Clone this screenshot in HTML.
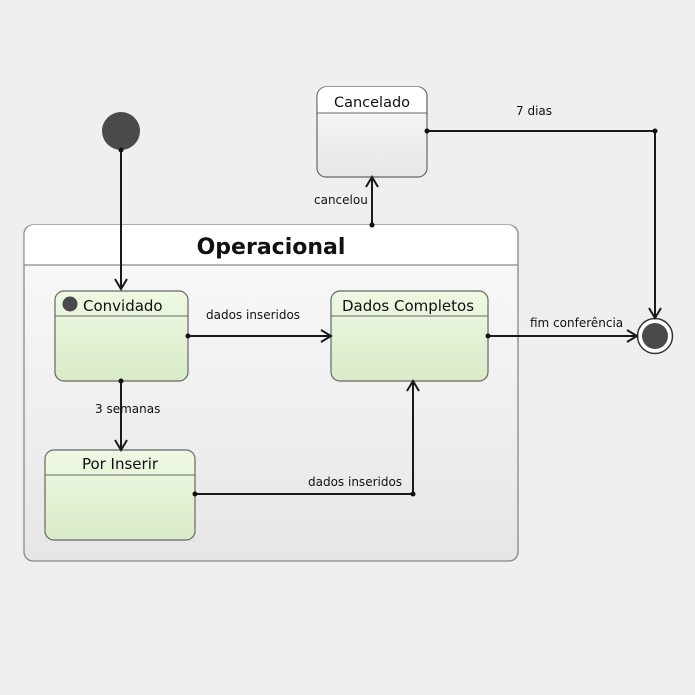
<!DOCTYPE html>
<html><head><meta charset="utf-8"><style>
html,body{margin:0;padding:0;background:#efefef;}
svg{display:block;font-family:"DejaVu Sans","Liberation Sans",sans-serif;}
</style></head><body>
<svg width="695" height="695" viewBox="0 0 695 695" xmlns="http://www.w3.org/2000/svg">
<defs>
<linearGradient id="g" x1="0" y1="0" x2="0" y2="1"><stop offset="0" stop-color="#fafafa"/><stop offset="1" stop-color="#e6e6e6"/></linearGradient>
<linearGradient id="gg" x1="0" y1="0" x2="0" y2="1"><stop offset="0" stop-color="#eef8e4"/><stop offset="1" stop-color="#d9ebc6"/></linearGradient>
</defs>
<rect width="695" height="695" fill="#efefef"/>
<rect x="24" y="225" width="494" height="336" rx="9" fill="url(#g)" stroke="#888" stroke-width="1.3"/>
<path d="M24.7 265 V234 a9 9 0 0 1 9 -9 H508 a9 9 0 0 1 9 9 V265 Z" fill="#fff"/>
<line x1="24" y1="265" x2="518" y2="265" stroke="#888" stroke-width="1.3"/>
<text x="271" y="254" font-size="22" font-weight="bold" text-anchor="middle" fill="#111">Operacional</text>
<rect x="317" y="87" width="110" height="90" rx="9" fill="url(#g)" stroke="#666" stroke-width="1.2"/>
<path d="M317.6 113 V96 a9 9 0 0 1 9 -9 H417 a9 9 0 0 1 9 9 V113 Z" fill="#fff"/>
<line x1="317" y1="113" x2="427" y2="113" stroke="#666"/>
<text x="372" y="107" font-size="14.5" text-anchor="middle" fill="#111">Cancelado</text>
<rect x="55" y="291" width="133" height="90" rx="9" fill="url(#gg)" stroke="#666" stroke-width="1.2"/>
<line x1="55" y1="316" x2="188" y2="316" stroke="#666"/>
<circle cx="70" cy="304" r="7.5" fill="#4a4a4a"/>
<text x="83" y="311" font-size="15" fill="#111">Convidado</text>
<rect x="331" y="291" width="157" height="90" rx="9" fill="url(#gg)" stroke="#666" stroke-width="1.2"/>
<line x1="331" y1="316" x2="488" y2="316" stroke="#666"/>
<text x="408" y="311" font-size="15" text-anchor="middle" fill="#111">Dados Completos</text>
<rect x="45" y="450" width="150" height="90" rx="9" fill="url(#gg)" stroke="#666" stroke-width="1.2"/>
<line x1="45" y1="475" x2="195" y2="475" stroke="#666"/>
<text x="120" y="469" font-size="15" text-anchor="middle" fill="#111">Por Inserir</text>
<circle cx="121" cy="131" r="19" fill="#4a4a4a"/>
<circle cx="655" cy="336" r="17.5" fill="#fff" stroke="#333" stroke-width="1.5"/>
<circle cx="655" cy="336" r="13" fill="#4a4a4a"/>
<g stroke="#1a1a1a" stroke-width="2" fill="none">
<path d="M121 150 V289"/><path d="M115 279 L121 289 L127 279"/>
<path d="M372 225 V177"/><path d="M366 187 L372 177 L378 187"/>
<path d="M427 131 H655 V318"/><path d="M649 308 L655 318 L661 308"/>
<path d="M188 336 H331"/><path d="M321 330 L331 336 L321 342"/>
<path d="M488 336 H637"/><path d="M627 330 L637 336 L627 342"/>
<path d="M121 381 V450"/><path d="M115 440 L121 450 L127 440"/>
<path d="M195 494 H413 V381"/><path d="M407 391 L413 381 L419 391"/>
</g>
<g fill="#111">
<circle cx="121" cy="150" r="2.5"/><circle cx="372" cy="225" r="2.5"/><circle cx="427" cy="131" r="2.5"/><circle cx="655" cy="131" r="2.5"/>
<circle cx="188" cy="336" r="2.5"/><circle cx="488" cy="336" r="2.5"/><circle cx="121" cy="381" r="2.5"/><circle cx="195" cy="494" r="2.5"/><circle cx="413" cy="494" r="2.5"/>
</g>
<g font-size="12" fill="#111">
<text x="516" y="115">7 dias</text>
<text x="314" y="204">cancelou</text>
<text x="206" y="319">dados inseridos</text>
<text x="530" y="327">fim conferência</text>
<text x="95" y="413">3 semanas</text>
<text x="308" y="486">dados inseridos</text>
</g>
</svg>
</body></html>
